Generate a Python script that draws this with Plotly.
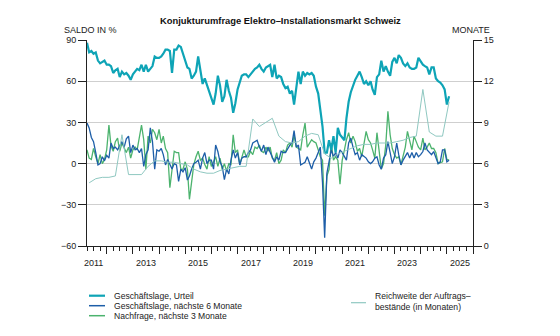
import plotly.graph_objects as go
import pandas as pd

# ---------------- data (monthly, Apr 2011 .. Feb 2025) ----------------
start_month = "2011-04-01"
n_months = 167

urteil = [88,81,82,80,81,75,73,74,75,72, 72,71,66,68,69,63,67,65,66,64,
          61,65,67,69,68,72,67,72,67,69, 71,78,77,77,78,80,83,83,82,66,
          83,83,86,85,80,75,70,69,62,64, 67,78,68,58,62,57,52,48,43,51,
          64,57,45,49,61,53,48,37,44,54, 60,64,65,65,63,65,67,69,70,72,
          69,67,70,71,
          72,63,72,62,64,63,58,55,56,51, 53,43,55,67,58,67,64,66,65,66,
          64,56,51,41,27,8,8,17,10,20, 8,26,21,19,17,33,45,52,57,61,
          64,67,63,58,60,57,60,54,50,63, 65,75,67,71,67,64,74,77,73,79,
          77,73,71,73,70,69,69,70,77,74, 72,71,70,65,70,70,62,60,59,57,
          54,43,49]

lage6 = [29.5,26,19,16,8,-1,0,5,2,6, 4,15,11,12,10,13.5,16,12,18,20,
         8,13.5,10,11,8,11,-2,6.5,10,26, 16,-4,10,9,11,6.5,-1,3,-1,-4,
         0,-1,-13,-4,-6,-3,-12,-9,-4,0, 1,2.5,-4,4,8,0,2.5,2.5,-4,13.5,
         8.8,1.3,-2,-11.6,-4,-7.5,2.5,10,4,8, -1,4,5,5,8,10,15,16,17,12,
         9,13.5,6.5,12,
         8,4,1,5,2.5,9,8,8,11,13.5, 15,24,12,13.5,-1,0,1,5,1,-4,
         1.3,4,8,12,-14,-54,-7,1.3,10,5, 8,4,10,8,5,2.5,15,18.6,12,6.5,
         8,2.5,6.5,5,4,1.3,0,1.3,4,5, -1,-4,4,6.5,16,8,0,5,15,6.5,
         -1,2.5,5,8,4,8,4,8,5,6.5, 8.8,15,10,8,6.5,8.8,5,0,1.3,10,
         10,1.3,2.5]

nachfrage = [10,4,3,11,5,0,6.5,0,3,10, 28,13,9,16,18.6,9,15,11,8,12,
             4,10,12,10,20,28,17.4,-4,20,15, 25,22.5,17.4,25,15,20,11,8,-17.6,-2,
             9,8,8,-4.3,-4,1.3,-4.3,-26,-14,-0.7, 5,9,2.5,4,-0.7,-4,5,-2,1.3,5,
             -2,4,-4.3,0,-5.6,0,-0.7,21,8,10, -0.7,4,10,5,5,9,6.5,12,11,13.5,
             9,8,12,9,
             12,4,2.5,8,0,2.5,10,8,13.5,15, 12,21,12,11,10,21,29.5,12,15,17.4,
             16,15,10,5,2.5,-38,-9,-4.3,15,2.5, 5,2.5,-15,2.5,10,17.4,22.5,15,20,16,
             9,11,5,16,23.4,17.4,15,10,4,22.5, 9,-4,0,13.5,38,21,11,6.5,4,5,
             -0.7,5,12,23.4,17.4,10,20,16,12,10, 18.6,10,12,15,11,11,8,0,0.5,1.3,
             11,3,2.5]

# quarterly order-backlog range (months), May 2011 .. Feb 2025
reich_start = "2011-05-01"
reichweite = [4.6,4.9,5.0,
              5.0,5.1,8.1,5.2,
              5.2,5.2,5.8,6.2,
              6.2,6.1,6.1,6.0,
              5.9,5.6,5.4,5.3,
              5.3,5.5,5.6,5.7,
              5.8,5.8,9.25,8.7,
              9.0,9.3,8.0,7.6,
              7.5,7.6,8.0,8.2,
              8.1,6.7,6.4,6.7,
              6.9,7.1,7.3,7.4,
              7.4,7.5,7.5,7.5,
              7.6,7.7,7.9,8.0,
              11.4,8.3,8.0,8.0,
              10.5]

year_labels = ["2011","2013","2015","2017","2019","2021","2023","2025"]

names = ["Geschäftslage, Urteil", "Geschäftslage, nächste 6 Monate",
         "Nachfrage, nächste 3 Monate", "Reichweite der Auftrags–<br>bestände (in Monaten)"]
colors = ["#0ea4b6", "#1d5ea8", "#4cb36e", "#8fc8c1"]

months = pd.date_range(start_month, periods=n_months, freq="MS")
reich_dates = pd.date_range(reich_start, periods=len(reichweite), freq="3MS")

FONT = "Liberation Sans, Arial, sans-serif"
INK = "#222222"

fig = go.Figure()
fig.add_trace(go.Scatter(x=months, y=nachfrage, mode="lines", name=names[2],
                         line=dict(color=colors[2], width=1.3), showlegend=False))
fig.add_trace(go.Scatter(x=months, y=lage6, mode="lines", name=names[1],
                         line=dict(color=colors[1], width=1.3), showlegend=False))
fig.add_trace(go.Scatter(x=months, y=urteil, mode="lines", name=names[0],
                         line=dict(color=colors[0], width=2.2), showlegend=False))
fig.add_trace(go.Scatter(x=reich_dates, y=reichweite, mode="lines", name=names[3],
                         yaxis="y2", line=dict(color=colors[3], width=1), showlegend=False))

W, H = 560, 336
L, R, T, B = 87, 87, 40, 90
pw, ph = W - L - R, H - T - B

def px(x):
    return (x - L) / pw

def py(y):
    return (H - B - y) / ph

annotations = []
# title & axis captions
annotations.append(dict(text="<b>Konjukturumfrage Elektro–Installationsmarkt Schweiz</b>",
                        x=0.5, y=py(20), xref="paper", yref="paper", showarrow=False,
                        xanchor="center", yanchor="middle", font=dict(size=9.4, color="#111")))
annotations.append(dict(text="SALDO IN %", x=px(62), y=py(30), xref="paper", yref="paper",
                        showarrow=False, xanchor="left", yanchor="middle",
                        font=dict(size=9, color=INK)))
annotations.append(dict(text="MONATE", x=px(492), y=py(30), xref="paper", yref="paper",
                        showarrow=False, xanchor="right", yanchor="middle",
                        font=dict(size=9, color=INK)))
# year labels centred in the year
for lab in year_labels:
    annotations.append(dict(text=lab, x=f"{lab}-07-01", y=py(263), xref="x", yref="paper",
                            showarrow=False, xanchor="center", yanchor="middle",
                            font=dict(size=9, color=INK)))

shapes = []
# legend (manual, compact)
leg_rows = [(295.7, 0), (305.7, 1), (315.7, 2)]
for yy, k in leg_rows:
    shapes.append(dict(type="line", xref="paper", yref="paper",
                       x0=px(89), x1=px(105), y0=py(yy), y1=py(yy),
                       line=dict(color=colors[k], width=2.2 if k == 0 else 1.5)))
    annotations.append(dict(text=names[k], x=px(111.5), y=py(yy), xref="paper", yref="paper",
                            showarrow=False, xanchor="left", yanchor="middle",
                            font=dict(size=8.6, color=INK)))
shapes.append(dict(type="line", xref="paper", yref="paper",
                   x0=px(351), x1=px(366), y0=py(302.7), y1=py(302.7),
                   line=dict(color=colors[3], width=1.2)))
annotations.append(dict(text=names[3], x=px(373), y=py(301.2), xref="paper", yref="paper",
                        showarrow=False, xanchor="left", yanchor="middle", align="left",
                        font=dict(size=8.6, color=INK)))

fig.update_layout(
    width=W, height=H, autosize=False,
    margin=dict(l=L, r=R, t=T, b=B, pad=0),
    paper_bgcolor="white", plot_bgcolor="white",
    font=dict(family=FONT, size=9, color=INK),
    showlegend=False,
    xaxis=dict(type="date", range=["2011-04-01", "2026-01-01"],
               showgrid=False, zeroline=False,
               showline=True, linecolor=INK, linewidth=1,
               tickmode="array",
               tickvals=list(pd.date_range("2012-01-01", "2026-01-01", freq="YS")),
               showticklabels=False,
               ticks="outside", ticklen=7, tickcolor=INK, tickwidth=1,
               minor=dict(ticks="outside", ticklen=4, tickcolor=INK, tickwidth=1,
                          dtick="M3", tick0="2011-01-01", showgrid=False)),
    yaxis=dict(range=[-60, 90], tickmode="linear", tick0=-60, dtick=30,
               showgrid=True, gridcolor="#cfcfcf", gridwidth=1, zeroline=False,
               showline=True, linecolor=INK, linewidth=1,
               ticks="outside", ticklen=8, tickcolor=INK,
               tickfont=dict(size=9, color=INK)),
    yaxis2=dict(range=[0, 15], tickmode="linear", tick0=0, dtick=3,
                overlaying="y", side="right", anchor="x",
                showgrid=False, zeroline=False,
                showline=True, linecolor=INK, linewidth=1,
                ticks="outside", ticklen=8, tickcolor=INK,
                tickfont=dict(size=9, color=INK)),
    annotations=annotations,
    shapes=shapes,
)

fig.write_html("out.html")
